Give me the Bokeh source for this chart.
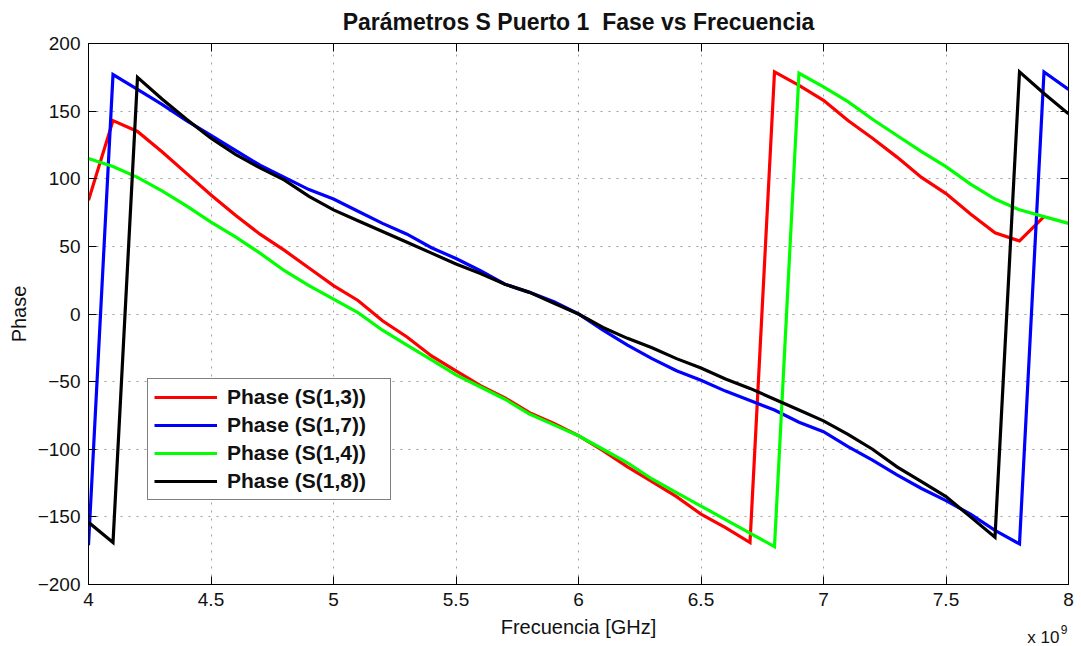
import numpy as np
from bokeh.plotting import figure
from bokeh.models import FixedTicker, LinearAxis, Title
from bokeh.embed import file_html
from bokeh.resources import INLINE

# ---------------- data ----------------
freq_ghz = [4.0, 4.1, 4.2, 4.3, 4.4, 4.5, 4.6, 4.7, 4.8, 4.9,
            5.0, 5.1, 5.2, 5.3, 5.4, 5.5, 5.6, 5.7, 5.8, 5.9,
            6.0, 6.1, 6.2, 6.3, 6.4, 6.5, 6.6, 6.7, 6.8, 6.9,
            7.0, 7.1, 7.2, 7.3, 7.4, 7.5, 7.6, 7.7, 7.8, 7.9, 8.0]

phase_s13 = [84, 143, 135, 120, 104, 88, 73, 59, 47, 34,
             21, 10, -5, -17, -31, -42, -53, -62, -73, -81,
             -90, -101, -113, -124, -135, -148, -158, -169, 179, 169,
             158, 143, 130, 116, 101, 89, 74, 60, 54, 72, np.nan]

phase_s17 = [-171, 177, 166, 155, 143, 132, 121, 110, 101, 92,
             85, 76, 67, 59, 49, 41, 32, 22, 16, 9,
             0, -12, -23, -33, -42, -49, -57, -64, -71, -80,
             -87, -98, -108, -119, -129, -138, -148, -160, -170, 179, 166]

phase_s14 = [115, 109, 101, 91, 80, 68, 57, 45, 32, 21,
             11, 1, -12, -23, -34, -45, -54, -63, -74, -82,
             -90, -100, -110, -122, -132, -142, -152, -162, -172, 178,
             168, 157, 144, 132, 120, 109, 96, 85, 77, 72, 67]

phase_s18 = [-154, -169, 175, 159, 144, 130, 118, 108, 99, 87,
             77, 69, 61, 53, 45, 37, 30, 22, 16, 8,
             0, -10, -18, -25, -33, -40, -48, -55, -63, -71,
             -79, -89, -100, -113, -124, -135, -150, -165, 179, 163, 148]

series_labels = ["Phase (S(1,3))", "Phase (S(1,7))", "Phase (S(1,4))", "Phase (S(1,8))"]
series_colors = ["#ff0000", "#0000ff", "#00ff00", "#000000"]

x_ticks = [4, 4.5, 5, 5.5, 6, 6.5, 7, 7.5, 8]
x_tick_labels = ["4", "4.5", "5", "5.5", "6", "6.5", "7", "7.5", "8"]
y_ticks = [-200, -150, -100, -50, 0, 50, 100, 150, 200]
y_tick_labels = ["\u2212200", "\u2212150", "\u2212100", "\u221250", "0", "50", "100", "150", "200"]

title_text = "Parámetros S Puerto 1\u00a0 Fase vs Frecuencia"
x_label = "Frecuencia [GHz]"
x_exp_base = "x 10"
x_exp_power = "9"
y_label = "Phase"

FONT = "Liberation Sans"

# ---------------- figure ----------------
p = figure(width=1081, height=646, x_range=(4, 8), y_range=(-200, 200),
           output_backend="svg", toolbar_location=None,
           min_border_left=88, min_border_right=13, min_border_top=43, min_border_bottom=62)
p.background_fill_color = "white"
p.border_fill_color = "white"
p.outline_line_color = "black"
p.outline_line_width = 1

p.title.text = title_text
p.title.align = "center"
p.title.vertical_align = "top"
p.title.text_font = FONT
p.title.text_font_size = "23px"
p.title.text_font_style = "bold"
p.title.text_color = "#111111"
p.title.standoff = 13

series = [phase_s13, phase_s17, phase_s14, phase_s18]
for vals, lab, col in zip(series, series_labels, series_colors):
    p.line(freq_ghz, np.array(vals, dtype=float), line_color=col, line_width=3.2,
           line_join="miter", legend_label=lab)

# axes
xa = p.xaxis[0]
ya = p.yaxis[0]
xa.ticker = FixedTicker(ticks=x_ticks)
ya.ticker = FixedTicker(ticks=y_ticks)
xa.major_label_overrides = dict(zip(x_ticks, x_tick_labels))
ya.major_label_overrides = dict(zip(y_ticks, y_tick_labels))
xa.axis_label = x_label
ya.axis_label = y_label
for ax in (xa, ya):
    ax.major_tick_in = 8
    ax.major_tick_out = 0
    ax.minor_tick_line_color = None
    ax.axis_line_color = "black"
    ax.major_tick_line_color = "black"
    ax.major_label_text_font = FONT
    ax.major_label_text_font_size = "19px"
    ax.major_label_text_color = "#111111"
    ax.axis_label_text_font = FONT
    ax.axis_label_text_font_size = "20px"
    ax.axis_label_text_font_style = "normal"
    ax.axis_label_text_color = "#111111"
xa.major_label_standoff = 8
xa.axis_label_standoff = 7
ya.major_label_standoff = 8
ya.axis_label_standoff = 5

# box ticks on top and right (no labels)
for loc, ticks in (("right", y_ticks), ("above", x_ticks)):
    ax2 = LinearAxis(ticker=FixedTicker(ticks=ticks),
                     major_label_overrides={t: "" for t in ticks},
                     major_label_text_font_size="0px",
                     major_label_standoff=1 if loc == "above" else 0,
                     major_tick_in=8, major_tick_out=0,
                     minor_tick_line_color=None,
                     axis_line_color="black")
    p.add_layout(ax2, loc)

# grid
for g in (p.xgrid[0], p.ygrid[0]):
    g.grid_line_color = "#a0a0a0"
    g.grid_line_dash = "2 6"
    g.grid_line_width = 1

# exponent of the x axis (below the axis, right-aligned): "x 10" and raised "9"
p.add_layout(Title(text=x_exp_base, align="right", vertical_align="top",
                   standoff=-26, offset=9, text_font=FONT, text_font_size="17px",
                   text_font_style="normal", text_color="#111111"), "below")
p.add_layout(Title(text=x_exp_power, align="right", vertical_align="top",
                   standoff=-31, offset=1, text_font=FONT, text_font_size="12px",
                   text_font_style="normal", text_color="#111111"), "below")

# legend
lg = p.legend[0]
lg.location = (59, 84)
lg.margin = 0
lg.padding = 6
lg.spacing = 4
lg.glyph_width = 63
lg.glyph_height = 22
lg.label_height = 22
lg.label_width = 157
lg.label_standoff = 10
lg.label_text_font = FONT
lg.label_text_font_size = "21px"
lg.label_text_font_style = "bold"
lg.label_text_color = "#111111"
lg.border_line_color = "black"
lg.border_line_width = 1
lg.background_fill_color = "white"
lg.background_fill_alpha = 1.0

open("out.html", "w").write(file_html(p, INLINE))
